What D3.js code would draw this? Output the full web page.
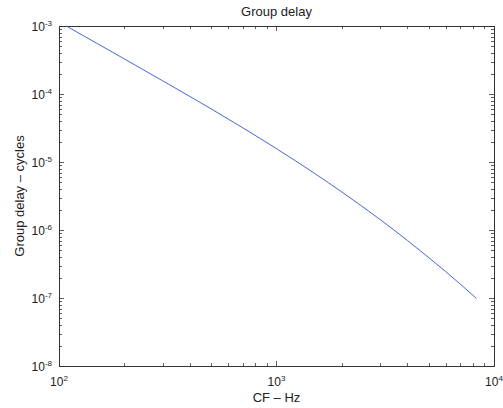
<!DOCTYPE html>
<html>
<head>
<meta charset="utf-8">
<script src="https://cdn.jsdelivr.net/npm/d3@7"></script>
<style>
  body { margin: 0; background: #fff; }
  text { font-family: "Liberation Sans", Arial, sans-serif; fill: #222; }
</style>
</head>
<body>
<script>
// values
var cf    = [108, 150, 200, 300, 400, 500, 700, 1000, 1500, 2000, 3000, 4000, 5000, 6000, 7000, 8300];
var delay = [1.0e-3, 5.51e-4, 3.27e-4, 1.56e-4, 9.18e-5, 6.06e-5, 3.18e-5, 1.57e-5,
             6.77e-6, 3.61e-6, 1.42e-6, 7.01e-7, 3.95e-7, 2.44e-7, 1.60e-7, 9.87e-8];
var xDecades = [2, 3, 4];
var yDecades = [-3, -4, -5, -6, -7, -8];

var W = 503, H = 408;
var margin = {top: 26, right: 9, bottom: 42, left: 59};
var width = W - margin.left - margin.right,
    height = H - margin.top - margin.bottom;

var svg = d3.select("body").append("svg")
    .attr("width", W)
    .attr("height", H);

var g = svg.append("g")
    .attr("transform", "translate(" + margin.left + "," + margin.top + ")");

var x = d3.scaleLog().domain([1e2, 1e4]).range([0, width]);
var y = d3.scaleLog().domain([1e-8, 1e-3]).range([height, 0]);

//minor + major ticks
var xTicks = x.ticks(), yTicks = y.ticks();
function isMajor(v) { return Math.abs(Math.log10(v) - Math.round(Math.log10(v))) < 1e-6; }

var tickGroup = g.append("g").attr("stroke", "#333").attr("stroke-width", 0.8);
xTicks.forEach(function(v) {
    var len = isMajor(v) ? 5 : 3, px = Math.round(x(v)) + 0.5;
    tickGroup.append("line").attr("x1", px).attr("x2", px).attr("y1", height).attr("y2", height - len);
    tickGroup.append("line").attr("x1", px).attr("x2", px).attr("y1", 0).attr("y2", len);
});
yTicks.forEach(function(v) {
    var len = isMajor(v) ? 5 : 3, py = Math.round(y(v)) + 0.5;
    tickGroup.append("line").attr("x1", 0).attr("x2", len).attr("y1", py).attr("y2", py);
    tickGroup.append("line").attr("x1", width).attr("x2", width - len).attr("y1", py).attr("y2", py);
});

//box
g.append("rect")
    .attr("x", 0.5).attr("y", 0.5)
    .attr("width", width).attr("height", height)
    .attr("fill", "none").attr("stroke", "#333").attr("stroke-width", 1);

//tick labels
xDecades.forEach(function(e) {
    var t = g.append("text")
        .attr("x", x(Math.pow(10, e)))
        .attr("y", height + 20)
        .attr("text-anchor", "middle")
        .style("font-size", "12px");
    t.append("tspan").text("10");
    t.append("tspan").attr("dy", -5).style("font-size", "8px").text(e);
});
yDecades.forEach(function(e) {
    var t = g.append("text")
        .attr("x", -7)
        .attr("y", y(Math.pow(10, e)) + 5)
        .attr("text-anchor", "end")
        .style("font-size", "12px");
    t.append("tspan").text("10");
    t.append("tspan").attr("dy", -5).style("font-size", "8px").text(e);
});

//curve
var line = d3.line()
    .x(function(d, i) { return x(cf[i]); })
    .y(function(d, i) { return y(delay[i]); })
    .curve(d3.curveMonotoneX);

g.append("path")
    .datum(cf)
    .attr("d", line)
    .attr("fill", "none")
    .attr("stroke", "#4766d6")
    .attr("stroke-width", 1);

//titles
svg.append("text")
    .attr("x", margin.left + width / 2)
    .attr("y", 16)
    .attr("text-anchor", "middle")
    .style("font-size", "13px")
    .text("Group delay");

svg.append("text")
    .attr("x", margin.left + width / 2)
    .attr("y", 402)
    .attr("text-anchor", "middle")
    .style("font-size", "13px")
    .text("CF – Hz");

svg.append("text")
    .attr("transform", "translate(24," + (margin.top + height / 2) + ") rotate(-90)")
    .attr("text-anchor", "middle")
    .style("font-size", "13px")
    .text("Group delay – cycles");
</script>
</body>
</html>
